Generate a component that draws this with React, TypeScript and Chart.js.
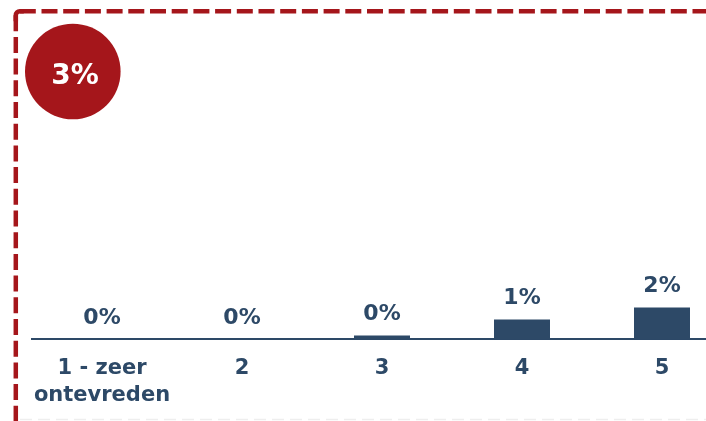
import React, { useEffect, useRef } from "react";
import { Chart, registerables } from "chart.js";

Chart.register(...registerables);

const categories: (string | string[])[] = [["1 - zeer", "ontevreden"], "2", "3", "4", "5"];
const values: number[] = [0, 0, 0.25, 1.25, 2.0];
const totalLabel = "3%";
const yMax = 20;

const NAVY = "#2d4967";
const RED = "#a5161b";
const FONT = "'DejaVu Sans', Verdana, sans-serif";

const labelsPlugin = {
  id: "barLabels",
  afterDatasetsDraw(chart: any) {
    const ctx = chart.ctx;
    const meta = chart.getDatasetMeta(0);
    ctx.save();
    ctx.font = `bold 22px ${FONT}`;
    ctx.fillStyle = NAVY;
    ctx.textAlign = "center";
    ctx.textBaseline = "alphabetic";
    meta.data.forEach((bar: any, i: number) => {
      const v = values[i];
      ctx.fillText(`${Math.round(v)}%`, bar.x, bar.y - 15.5);
    });
    ctx.restore();
  },
};

const decorPlugin = {
  id: "decor",
  afterDraw(chart: any) {
    const ctx = chart.ctx;
    ctx.save();
    // dashed frame (top + left)
    ctx.strokeStyle = RED;
    ctx.lineWidth = 4.5;
    ctx.setLineDash([16, 5.7]);
    const x0 = 15.8;
    const y0 = 11.2;
    const r = 4;
    ctx.beginPath();
    ctx.moveTo(x0 + r, y0);
    ctx.lineTo(chart.width + 10, y0);
    ctx.stroke();
    ctx.beginPath();
    ctx.moveTo(x0, y0 + r);
    ctx.lineTo(x0, chart.height + 10);
    ctx.stroke();
    ctx.setLineDash([]);
    ctx.beginPath();
    ctx.moveTo(x0, y0 + r + 6);
    ctx.lineTo(x0, y0 + r);
    ctx.arcTo(x0, y0, x0 + r, y0, r);
    ctx.lineTo(x0 + r + 4, y0);
    ctx.stroke();
    // faint bottom dashed line
    ctx.strokeStyle = "#eeeeee";
    ctx.lineWidth = 1.5;
    ctx.setLineDash([12, 6]);
    ctx.beginPath();
    ctx.moveTo(20, 419.5);
    ctx.lineTo(chart.width, 419.5);
    ctx.stroke();
    ctx.setLineDash([]);
    // circle
    ctx.fillStyle = RED;
    ctx.beginPath();
    ctx.arc(72.8, 71.5, 47.8, 0, Math.PI * 2);
    ctx.fill();
    ctx.fillStyle = "#ffffff";
    ctx.font = `bold 28px ${FONT}`;
    ctx.textAlign = "center";
    ctx.textBaseline = "alphabetic";
    ctx.fillText(totalLabel, 75, 83.5);
    ctx.restore();
  },
};

export default function App() {
  const canvasRef = useRef<HTMLCanvasElement | null>(null);

  useEffect(() => {
    if (!canvasRef.current) return;
    const chart = new Chart(canvasRef.current, {
      type: "bar",
      data: {
        labels: categories,
        datasets: [
          {
            data: values,
            backgroundColor: NAVY,
            borderWidth: 0,
            barPercentage: 0.4,
            categoryPercentage: 1,
          },
        ],
      },
      options: {
        animation: false,
        responsive: true,
        maintainAspectRatio: false,
        layout: { padding: { left: 32, right: 0, top: 20, bottom: -3 } },
        plugins: {
          legend: { display: false },
          tooltip: { enabled: false },
          title: { display: false },
        },
        scales: {
          x: {
            grid: { display: false, drawTicks: false },
            border: { display: true, color: NAVY, width: 2 },
            ticks: {
              color: NAVY,
              padding: 15,
              maxRotation: 0,
              autoSkip: false,
              font: { family: FONT, size: 21, weight: "bold", lineHeight: 1.3 },
            },
          },
          y: {
            display: false,
            min: 0,
            max: yMax,
          },
        },
      },
      plugins: [labelsPlugin, decorPlugin],
    });
    return () => chart.destroy();
  }, []);

  return (
    <div
      style={{
        position: "fixed",
        left: 0,
        top: 0,
        width: 706,
        height: 421,
        overflow: "hidden",
        background: "#ffffff",
      }}
    >
      <div style={{ position: "relative", width: 732, height: 421 }}>
        <canvas ref={canvasRef} />
      </div>
    </div>
  );
}
